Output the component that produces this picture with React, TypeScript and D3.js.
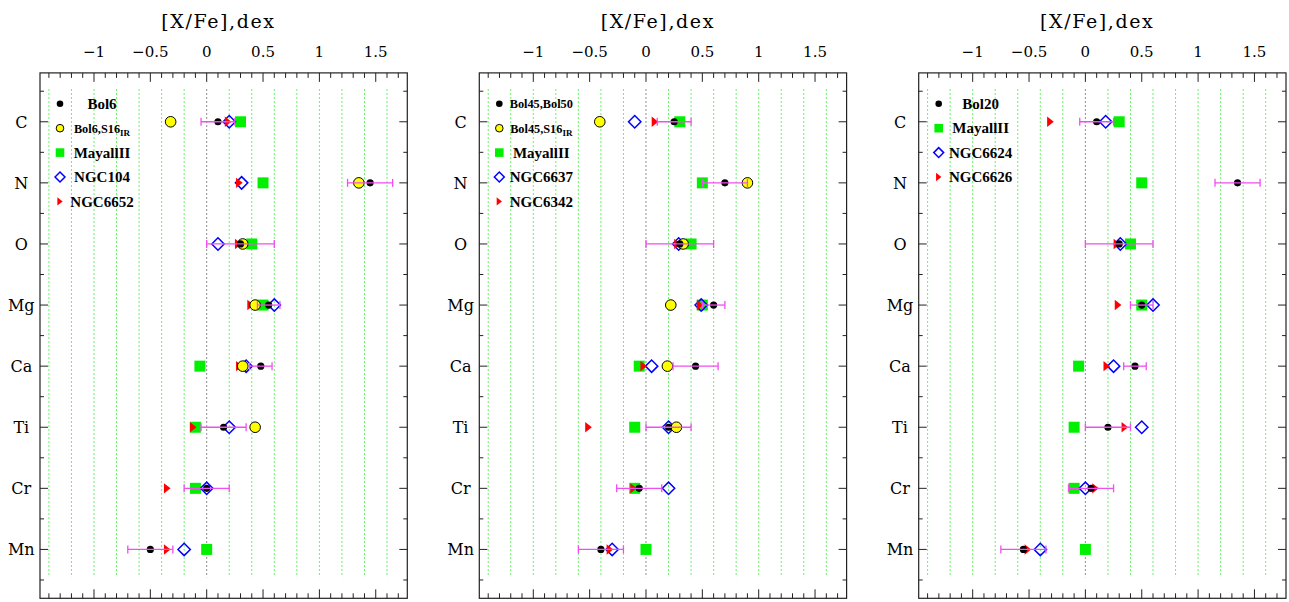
import React from "react";
import * as d3 from "d3";

// ---------- data ----------
const elements = ["C", "N", "O", "Mg", "Ca", "Ti", "Cr", "Mn"];
const xTickValues = [-1, -0.5, 0, 0.5, 1, 1.5];
const xTickLabels = ["\u22121", "\u22120.5", "0", "0.5", "1", "1.5"];
const gridValues = [-1.4, -1.2, -1, -0.8, -0.6, -0.4, -0.2, 0, 0.2, 0.4, 0.6, 0.8, 1, 1.2, 1.4, 1.6];

// Mayall II (same comparison in all panels)
const mayallII = [0.30, 0.50, 0.40, 0.50, -0.06, -0.10, -0.10, 0.00];

// Panel 1
const bol6 = [0.10, 1.45, 0.30, 0.55, 0.48, 0.15, 0.00, -0.50];
const bol6Err = [0.15, 0.20, 0.30, 0.10, 0.10, 0.20, 0.20, 0.20];
const bol6S16 = [-0.32, 1.35, 0.32, 0.43, 0.32, 0.43, null, null];
const ngc104 = [0.20, 0.31, 0.10, 0.60, 0.35, 0.20, 0.00, -0.20];
const ngc6652 = [0.19, 0.29, 0.28, 0.39, 0.29, -0.12, -0.35, -0.35];

// Panel 2
const bol45Bol50 = [0.25, 0.70, 0.30, 0.60, 0.44, 0.20, -0.06, -0.40];
const bol45Bol50Err = [0.15, 0.20, 0.30, 0.10, 0.20, 0.20, 0.20, 0.20];
const bol45S16 = [-0.41, 0.90, 0.33, 0.22, 0.19, 0.27, null, null];
const ngc6637 = [-0.10, null, 0.29, 0.49, 0.05, 0.20, 0.20, -0.30];
const ngc6342 = [0.08, null, 0.28, 0.48, -0.02, -0.51, -0.11, -0.32];

// Panel 3
const bol20 = [0.10, 1.35, 0.30, 0.50, 0.44, 0.20, 0.05, -0.55];
const bol20Err = [0.15, 0.20, 0.30, 0.10, 0.10, 0.20, 0.20, 0.20];
const ngc6624 = [0.18, null, 0.31, 0.60, 0.25, 0.50, 0.00, -0.40];
const ngc6626 = [-0.31, null, 0.28, 0.29, 0.19, 0.35, 0.09, -0.51];

type Legend = { kind: string; label: string; sub?: string; small?: boolean };
type Panel = {
  left: number;
  dots: (number | null)[];
  err: number[];
  yellow: (number | null)[] | null;
  square: (number | null)[];
  diamond: (number | null)[];
  tri: (number | null)[];
  legend: Legend[];
};

const panels: Panel[] = [
  {
    left: 40,
    dots: bol6, err: bol6Err, yellow: bol6S16, square: mayallII, diamond: ngc104, tri: ngc6652,
    legend: [
      { kind: "dot", label: "Bol6" },
      { kind: "yellow", label: "Bol6,S16", sub: "IR", small: true },
      { kind: "square", label: "MayallII" },
      { kind: "diamond", label: "NGC104" },
      { kind: "tri", label: "NGC6652" },
    ],
  },
  {
    left: 479.3,
    dots: bol45Bol50, err: bol45Bol50Err, yellow: bol45S16, square: mayallII, diamond: ngc6637, tri: ngc6342,
    legend: [
      { kind: "dot", label: "Bol45,Bol50", small: true },
      { kind: "yellow", label: "Bol45,S16", sub: "IR", small: true },
      { kind: "square", label: "MayallII" },
      { kind: "diamond", label: "NGC6637" },
      { kind: "tri", label: "NGC6342" },
    ],
  },
  {
    left: 918.7,
    dots: bol20, err: bol20Err, yellow: null, square: mayallII, diamond: ngc6624, tri: ngc6626,
    legend: [
      { kind: "dot", label: "Bol20" },
      { kind: "square", label: "MayallII" },
      { kind: "diamond", label: "NGC6624" },
      { kind: "tri", label: "NGC6626" },
    ],
  },
];

// ---------- layout ----------
const W = 1289;
const H = 602;
const PW = 367.3;
const TOP = 72.9;
const BOTTOM = 598.3;
const MAG = "#f04ef0";
const GREEN = "#00f000";
const serif = "'DejaVu Serif', serif";
const legendFont = "'Liberation Serif', serif";

const yScale = d3.scaleLinear().domain([0.2, 8.8]).range([TOP, BOTTOM]);
const minorX = d3.range(-14, 18).map((i) => i / 10);
const yMajor = d3.range(1, 9);
const yMinor = d3.range(0, 9).map((i) => i + 0.5);

function Marker({ kind, x, y, legend }: { kind: string; x: number; y: number; legend?: boolean }) {
  const s = legend ? 0.8 : 1;
  if (kind === "dot") return <circle cx={x} cy={y} r={legend ? 3.3 : 3.6} fill="#000" />;
  if (kind === "yellow")
    return <circle cx={x} cy={y} r={legend ? 3.8 : 5.3} fill="#ffff00" stroke="#000" strokeWidth={1} />;
  if (kind === "square") {
    const h = 5.5 * (legend ? 0.78 : 1);
    return <rect x={x - h} y={y - h} width={2 * h} height={2 * h} fill={GREEN} />;
  }
  if (kind === "diamond") {
    const h = 6.2 * s;
    return (
      <path
        d={`M${x - h},${y}L${x},${y - h}L${x + h},${y}L${x},${y + h}Z`}
        fill="none"
        stroke="#0000ff"
        strokeWidth={1.5}
      />
    );
  }
  if (kind === "tri") {
    const hw = 3.3 * s;
    const hh = 5.2 * s;
    return <path d={`M${x - hw},${y - hh}L${x + hw},${y}L${x - hw},${y + hh}Z`} fill="#ff0000" />;
  }
  return null;
}

function PanelView({ p }: { p: Panel }) {
  const x = d3.scaleLinear().domain([-1.479, 1.78]).range([p.left, p.left + PW]);
  const right = p.left + PW;
  const pts = (arr: (number | null)[] | null, kind: string) =>
    (arr || []).map((v, i) =>
      v === null ? null : <Marker key={kind + i} kind={kind} x={x(v)} y={yScale(i + 1)} />
    );
  return (
    <g>
      {/* title */}
      <text x={p.left + 178.5} y={28.3} textAnchor="middle" fontFamily={serif} fontSize={19} letterSpacing={1.6}>
        [X/Fe],dex
      </text>
      {/* grid */}
      {gridValues.map((g) => (
        <line
          key={"g" + g}
          x1={x(g)}
          x2={x(g)}
          y1={yScale(0.47)}
          y2={yScale(8.46)}
          stroke={g === 0 ? "#444" : GREEN}
          strokeWidth={1}
          strokeDasharray="1.2,2.8"
        />
      ))}
      {/* frame */}
      <rect x={p.left} y={TOP} width={PW} height={BOTTOM - TOP} fill="none" stroke="#222" strokeWidth={1.2} />
      {/* x ticks */}
      {minorX.map((v) => {
        const major = Math.abs(Math.round(v * 10) % 5) === 0;
        const len = major ? 9 : 5;
        return (
          <g key={"xt" + v}>
            <line x1={x(v)} x2={x(v)} y1={TOP} y2={TOP + len} stroke="#222" strokeWidth={1} />
            <line x1={x(v)} x2={x(v)} y1={BOTTOM} y2={BOTTOM - len} stroke="#222" strokeWidth={1} />
          </g>
        );
      })}
      {xTickValues.map((v, i) => (
        <text key={"xl" + v} x={x(v)} y={56.7} textAnchor="middle" fontFamily={serif} fontSize={15}>
          {xTickLabels[i]}
        </text>
      ))}
      {/* y ticks */}
      {yMajor.map((v) => (
        <g key={"ym" + v}>
          <line x1={p.left} x2={p.left + 8} y1={yScale(v)} y2={yScale(v)} stroke="#222" strokeWidth={1} />
          <line x1={right} x2={right - 8} y1={yScale(v)} y2={yScale(v)} stroke="#222" strokeWidth={1} />
        </g>
      ))}
      {yMinor.map((v) => (
        <g key={"yn" + v}>
          <line x1={p.left} x2={p.left + 4} y1={yScale(v)} y2={yScale(v)} stroke="#222" strokeWidth={1} />
          <line x1={right} x2={right - 4} y1={yScale(v)} y2={yScale(v)} stroke="#222" strokeWidth={1} />
        </g>
      ))}
      {elements.map((e, i) => (
        <text key={"el" + e} x={p.left - 18.7} y={yScale(i + 1) + 5.8} textAnchor="middle" fontFamily={serif} fontSize={16}>
          {e}
        </text>
      ))}
      {/* markers */}
      {pts(p.square, "square")}
      {pts(p.diamond, "diamond")}
      {pts(p.tri, "tri")}
      {pts(p.yellow, "yellow")}
      {pts(p.dots, "dot")}
      {p.dots.map((v, i) => {
        if (v === null) return null;
        const yy = yScale(i + 1);
        const a = x(v - p.err[i]);
        const b = x(v + p.err[i]);
        return (
          <g key={"eb" + i} stroke={MAG} strokeWidth={1.3}>
            <line x1={a} x2={b} y1={yy} y2={yy} />
            <line x1={a} x2={a} y1={yy - 4} y2={yy + 4} />
            <line x1={b} x2={b} y1={yy - 4} y2={yy + 4} />
          </g>
        );
      })}
      {/* legend */}
      {p.legend.map((l, i) => {
        const ly = 103.8 + i * 24.4;
        return (
          <g key={"lg" + i}>
            <Marker kind={l.kind} x={p.left + 20} y={ly} legend />
            <text
              x={p.left + 62}
              y={ly + (l.small ? 4.5 : 5.2)}
              textAnchor="middle"
              fontFamily={legendFont}
              fontWeight="bold"
              fontSize={l.small ? 12.3 : 15}
            >
              {l.label}
              {l.sub ? (
                <tspan fontSize={9} dy={3}>
                  {l.sub}
                </tspan>
              ) : null}
            </text>
          </g>
        );
      })}
    </g>
  );
}

export default function App() {
  return (
    <svg
      width={W}
      height={H}
      viewBox={`0 0 ${W} ${H}`}
      style={{ position: "absolute", left: 0, top: 0, background: "#fff" }}
    >
      <rect x={0} y={0} width={W} height={H} fill="#fff" />
      {panels.map((p, i) => (
        <PanelView key={i} p={p} />
      ))}
    </svg>
  );
}
